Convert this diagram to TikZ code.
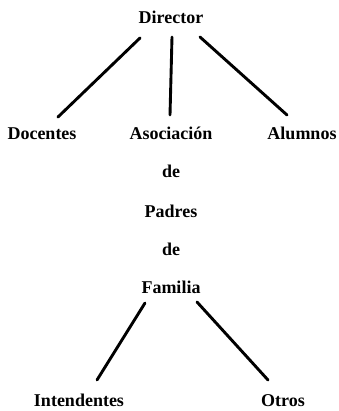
\documentclass[tikz,border=0pt]{standalone}
\usepackage{fontspec}
\setmainfont{Liberation Serif}
\begin{document}
\begin{tikzpicture}[x=1pt,y=-1pt,
  lbl/.style={inner sep=0pt,text height=12pt,text depth=0pt,font=\fontsize{18}{21}\selectfont\bfseries},
  con/.style={line width=2.9pt,line cap=round}]
\useasboundingbox (0,0) rectangle (338,411);
\node[lbl] (dir) at (171,18) {Director};
\node[lbl] (doc) at (42,134) {Docentes};
\node[lbl] (aso) at (171,134) {Asociación};
\node[lbl] (alu) at (302,134) {Alumnos};
\node[lbl] (de1) at (171,172) {de};
\node[lbl] (pad) at (171,211) {Padres};
\node[lbl] (de2) at (171,249) {de};
\node[lbl] (fam) at (171,287) {Familia};
\node[lbl] (int) at (79,400) {Intendentes};
\node[lbl] (otr) at (283,400) {Otros};
\draw[con] ([shift={(-31,20)}]dir.center) -- ([shift={(16,-17)}]doc.center);
\draw[con] ([shift={(1,19)}]dir.center) -- ([shift={(-1,-19)}]aso.center);
\draw[con] ([shift={(29,19)}]dir.center) -- ([shift={(-15,-19)}]alu.center);
\draw[con] ([shift={(-26,16)}]fam.center) -- ([shift={(18,-20)}]int.center);
\draw[con] ([shift={(26,15)}]fam.center) -- ([shift={(-15,-20)}]otr.center);
\end{tikzpicture}
\end{document}
